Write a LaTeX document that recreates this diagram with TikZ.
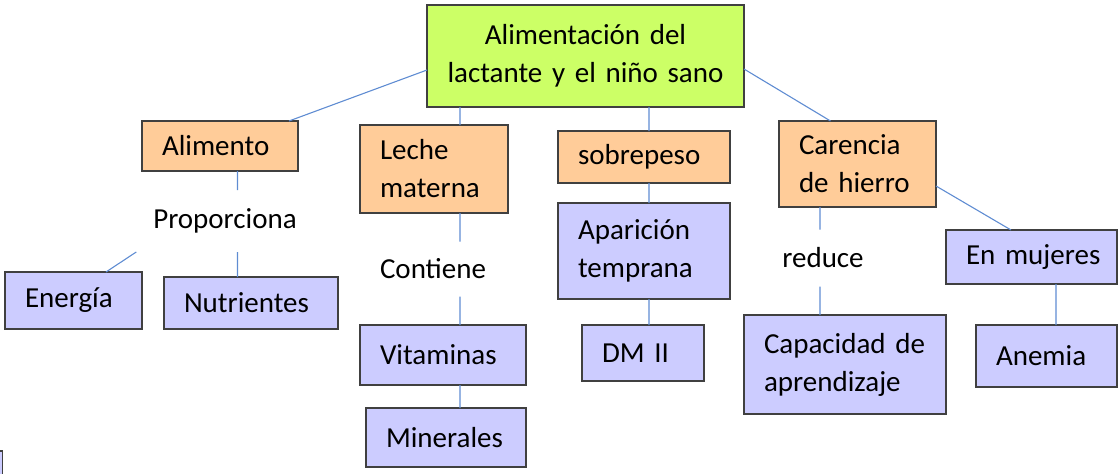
\documentclass[tikz,border=0pt]{standalone}
\usepackage{fontspec}
\setmainfont{Carlito}
\usepackage{tikz}
\usetikzlibrary{positioning}
\definecolor{rootgreen}{RGB}{204,255,102}
\definecolor{peach}{RGB}{255,204,153}
\definecolor{lilac}{RGB}{204,204,255}
\definecolor{edgeblue}{RGB}{95,140,210}
\definecolor{rim}{RGB}{64,64,64}
\tikzset{
    sz/.code 2 args={\pgfmathsetlengthmacro\tw{#1-40}%
        \tikzset{minimum width=#1pt, minimum height=#2pt, text width/.expanded=\tw}},
    cnode/.style={draw=rim, line width=1.5pt, anchor=north west, inner xsep=20pt,
        inner ysep=0pt, outer sep=0pt, align=left, font=\fontsize{29}{38}\selectfont,
        execute at begin node={\hyphenpenalty=10000\exhyphenpenalty=10000}},
    rnode/.style={cnode, fill=rootgreen, align=center},
    onode/.style={cnode, fill=peach},
    pnode/.style={cnode, fill=lilac},
    lbl/.style={inner sep=0pt, outer sep=0pt, minimum height=#1pt,
        font=\fontsize{29}{38}\selectfont},
    ln/.style={draw=edgeblue, line width=1.1pt},
}
\begin{document}
\begin{tikzpicture}[x=1pt, y=-1pt]
\useasboundingbox (0,0) rectangle (1120,474);
% stems
\coordinate (acol) at (237.5,0);
\coordinate (lcol) at (460,0);
\coordinate (scol) at (649,0);
\coordinate (ccol) at (820,0);
\coordinate (mcol) at (1056,0);

\node[rnode, sz={317}{102}] (root) at (427,5) {Alimentación del\\lactante y el niño sano};

\node[onode, sz={156}{50}] (alimento)  at (142,121) {Alimento};
\node[onode, sz={148}{88}] (leche)     at (360,125) {Leche\\materna};
\node[onode, sz={172}{52}] (sobrepeso) at (558,131) {sobrepeso};
\node[onode, sz={157}{86}] (carencia)  at (779,121) {Carencia\\de~hierro};

\node[lbl=62] (proporciona) at (225,221) {Proporciona};
\node[lbl=55] (contiene)    at (433,269) {Contiene};
\node[lbl=57] (reduce)      at (823,258) {reduce};

\node[pnode, sz={137}{57}]  (energia)    at (5,272)   {Energía};
\node[pnode, sz={174}{52}]  (nutrientes) at (164,277) {Nutrientes};
\node[pnode, sz={166}{60}]  (vitaminas)  at (360,325) {Vitaminas};
\node[pnode, sz={160}{59}]  (minerales)  at (366,408) {Minerales};
\node[pnode, sz={172}{96}]  (aparicion)  at (558,203) {Aparición\\temprana};
\node[pnode, sz={122}{56}]  (dm)         at (582,325) {DM~II};
\node[pnode, sz={202}{99}]  (capacidad)  at (744,315) {Capacidad~de\\aprendizaje};
\node[pnode, sz={171}{54}]  (mujeres)    at (946,230) {En~mujeres};
\node[pnode, sz={141}{62}]  (anemia)     at (976,325) {Anemia};

% links
\path[ln]
    ([yshift=-14pt]root.west) -- ([xshift=-9pt]alimento.north east)
    (root.south -| lcol) -- (leche.north -| lcol)
    (root.south -| scol) -- (sobrepeso.north -| scol)
    ([yshift=-13pt]root.east) -- ([xshift=-27pt]carencia.north)
    (alimento.south -| acol) -- (proporciona.north -| acol)
    ([xshift=-17pt]proporciona.south west) -- ([xshift=-36pt]energia.north east)
    (proporciona.south -| acol) -- (nutrientes.north -| acol)
    (leche.south -| lcol) -- (contiene.north -| lcol)
    (contiene.south -| lcol) -- (vitaminas.north -| lcol)
    (vitaminas.south -| lcol) -- (minerales.north -| lcol)
    (sobrepeso.south -| scol) -- (aparicion.north -| scol)
    (aparicion.south -| scol) -- (dm.north -| scol)
    (carencia.south -| ccol) -- (reduce.north -| ccol)
    (reduce.south -| ccol) -- (capacidad.north -| ccol)
    ([yshift=-22pt]carencia.east) -- ([xshift=65pt]mujeres.north west)
    (mujeres.south -| mcol) -- (anemia.north -| mcol)
;
% cut-off box at the lower left
\fill[lilac] (0,451) rectangle (2.5,474);
\draw[rim, line width=1.5pt] (0,451) -- (2.5,451) -- (2.5,474);
\end{tikzpicture}
\end{document}
